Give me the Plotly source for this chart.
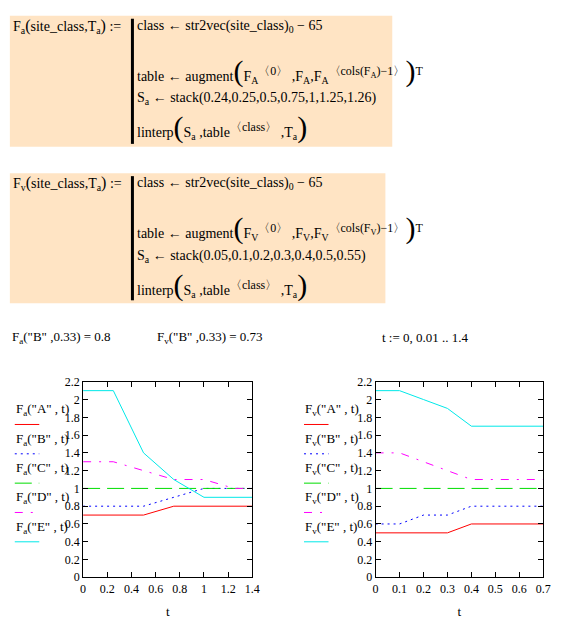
import plotly.graph_objects as go

W, H = 564, 628

# values (breakpoints of linterp, flat outside)
classes = ["A", "B", "C", "D", "E"]

t_fa = [0, 0.25, 0.5, 0.75, 1.0, 1.25, 1.4]
fa_A = [0.7, 0.7, 0.7, 0.8, 0.8, 0.8, 0.8]
fa_B = [0.8, 0.8, 0.8, 0.9, 1.0, 1.0, 1.0]
fa_C = [1.0, 1.0, 1.0, 1.0, 1.0, 1.0, 1.0]
fa_D = [1.3, 1.3, 1.2, 1.1, 1.1, 1.0, 1.0]
fa_E = [2.1, 2.1, 1.4, 1.1, 0.9, 0.9, 0.9]

t_fv = [0, 0.1, 0.2, 0.3, 0.4, 0.5, 1.4]
fv_A = [0.5, 0.5, 0.5, 0.5, 0.6, 0.6, 0.6]
fv_B = [0.6, 0.6, 0.7, 0.7, 0.8, 0.8, 0.8]
fv_C = [1.0, 1.0, 1.0, 1.0, 1.0, 1.0, 1.0]
fv_D = [1.4, 1.4, 1.3, 1.2, 1.1, 1.1, 1.1]
fv_E = [2.1, 2.1, 2.0, 1.9, 1.7, 1.7, 1.7]

fa_series = [fa_A, fa_B, fa_C, fa_D, fa_E]
fv_series = [fv_A, fv_B, fv_C, fv_D, fv_E]

colors = ["#ff0000", "#0000ff", "#00dd00", "#ff00ff", "#00e8e8"]
dashes = ["solid", "2px,4px", "17px,7px", "8px,8px,2px,8px", "solid"]

SERIF = "Liberation Serif, Times New Roman, serif"


def px_x(x):
    return x / W


def px_y(y):
    return 1 - y / H


fig = go.Figure()

for i, c in enumerate(classes):
    fig.add_trace(go.Scatter(x=t_fa, y=fa_series[i], mode="lines", xaxis="x", yaxis="y",
                             line=dict(color=colors[i], width=1, dash=dashes[i]),
                             name=f'Fa("{c}", t)', showlegend=False))
    fig.add_trace(go.Scatter(x=t_fv, y=fv_series[i], mode="lines", xaxis="x2", yaxis="y2",
                             line=dict(color=colors[i], width=1, dash=dashes[i]),
                             name=f'Fv("{c}", t)', showlegend=False))

axis_style = dict(showline=True, linecolor="black", linewidth=1, mirror="ticks",
                  ticks="inside", ticklen=5, tickcolor="black", showgrid=False,
                  zeroline=False, tickfont=dict(family=SERIF, size=12, color="black"))

top, bottom = 383.3, 583.3
t_title = dict(text="t", font=dict(family=SERIF, size=13, color="black"), standoff=12)
fig.update_layout(
    width=W, height=H, margin=dict(l=0, r=0, t=0, b=0),
    paper_bgcolor="white", plot_bgcolor="white",
    xaxis=dict(domain=[px_x(81.7), px_x(254.3)], range=[0, 1.4], dtick=0.2, anchor="y",
               title=t_title, **axis_style),
    yaxis=dict(domain=[px_y(bottom), px_y(top)], range=[0, 2.2], dtick=0.2, anchor="x",
               **axis_style),
    xaxis2=dict(domain=[px_x(380), px_x(551)], range=[0, 0.7], dtick=0.1, anchor="y2",
                title=t_title, **axis_style),
    yaxis2=dict(domain=[px_y(bottom), px_y(top)], range=[0, 2.2], dtick=0.2, anchor="x2",
                **axis_style),
)

shapes = []
annotations = []


def text(x, y, s, size=13):
    annotations.append(dict(x=px_x(x), y=px_y(y), xref="paper", yref="paper", text=s,
                            showarrow=False, xanchor="left", yanchor="middle",
                            font=dict(family=SERIF, size=size, color="black")))


big = '<span style="font-size:30px">%s</span>'
mid = '<span style="font-size:16px">%s</span>'
sup = '<sup><span style="font-size:12px">%s</span></sup>'

# worksheet regions
for y0, y1, x1, sub, big_sub, stack_vals in [
        (9, 143, 397, "a", "A", "0.24,0.25,0.5,0.75,1,1.25,1.26"),
        (170, 303, 390, "v", "V", "0.05,0.1,0.2,0.3,0.4,0.5,0.55")]:
    shapes.append(dict(type="rect", xref="paper", yref="paper", x0=px_x(7), x1=px_x(x1),
                       y0=px_y(y1), y1=px_y(y0), fillcolor="#ffe4c4", line=dict(width=0),
                       layer="below"))
    shapes.append(dict(type="line", xref="paper", yref="paper", x0=px_x(132), x1=px_x(132),
                       y0=px_y(y1 - 3), y1=px_y(y0 + 3), line=dict(color="black", width=3)))
    text(8, y0 + 11, f"F<sub>{sub}</sub>" + mid % "(" + "site_class,T<sub>a</sub>" + mid % ")" + " :=", 14)
    text(135, y0 + 11, "class ← str2vec(site_class)<sub>0</sub> − 65", 14)
    text(135, y0 + 56, "table ← augment" + big % "(" + f"F<sub>{big_sub}</sub>" + sup % "〈0〉"
         + f" ,F<sub>{big_sub}</sub>,F<sub>{big_sub}</sub>"
         + sup % f"〈cols(F<sub>{big_sub}</sub>)−1〉" + big % ")" + sup % "T", 14)
    text(135, y0 + 85, f"S<sub>a</sub> ← stack({stack_vals})", 14)
    text(135, y0 + 114, "linterp" + big % "(" + "S<sub>a</sub> ,table" + sup % "〈class〉"
         + " ,T<sub>a</sub>" + big % ")", 14)

text(7, 338, 'F<sub>a</sub>("B" ,0.33) = 0.8')
text(155, 338, 'F<sub>v</sub>("B" ,0.33) = 0.73')
text(385, 338, "t := 0, 0.01 .. 1.4")

# trace keys beside each plot
for x0, sub in [(11, "a"), (306, "v")]:
    for i, c in enumerate(classes):
        yt = 412 + 30 * i
        text(x0, yt, f'F<sub>{sub}</sub>("{c}" , t)')
        shapes.append(dict(type="line", xref="paper", yref="paper", x0=px_x(x0 + 1), x1=px_x(x0 + 26),
                           y0=px_y(yt + 15), y1=px_y(yt + 15),
                           line=dict(color=colors[i], width=1, dash=dashes[i])))

fig.update_layout(shapes=shapes, annotations=annotations)

fig.write_html("out.html", config={"displayModeBar": False},
               post_script="document.body.style.margin='0px';")
